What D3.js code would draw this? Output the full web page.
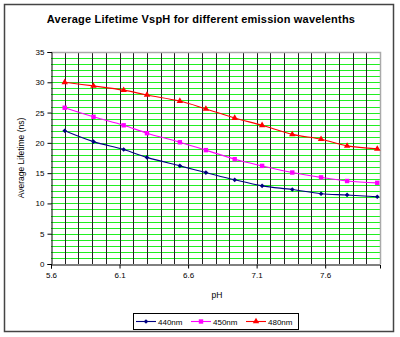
<!DOCTYPE html>
<html>
<head>
<meta charset="utf-8">
<script src="https://cdn.jsdelivr.net/npm/d3@7"></script>
<style>
  html, body { margin: 0; padding: 0; background: #fff; }
  svg { display: block; }
  text { font-family: "Liberation Sans", Arial, sans-serif; fill: #000; }
</style>
</head>
<body>
<svg id="chart" width="400" height="337"></svg>
<script>
// pH values where lifetimes were measured
const phValues = [5.70, 5.91, 6.13, 6.30, 6.54, 6.73, 6.94, 7.14, 7.36, 7.57, 7.76, 7.98];

// Average lifetime (ns) per emission wavelength
const life440 = [22.0, 20.2, 18.9, 17.6, 16.2, 15.1, 13.9, 12.9, 12.3, 11.6, 11.4, 11.1];
const life450 = [25.8, 24.3, 22.9, 21.6, 20.1, 18.8, 17.3, 16.2, 15.1, 14.3, 13.7, 13.4];
const life480 = [30.0, 29.4, 28.7, 27.9, 26.9, 25.6, 24.1, 22.9, 21.4, 20.6, 19.5, 19.0];

const seriesNames = ["440nm", "450nm", "480nm"];
const xTickLabels = [5.6, 6.1, 6.6, 7.1, 7.6];
const yTickLabels = [0, 5, 10, 15, 20, 25, 30, 35];

const series = [
  { name: seriesNames[0], values: life440, color: "#000080", marker: "diamond" },
  { name: seriesNames[1], values: life450, color: "#FF00FF", marker: "square" },
  { name: seriesNames[2], values: life480, color: "#FF0000", marker: "triangle" }
];

const svg = d3.select("#chart");

// outer chart frame
svg.append("rect")
  .attr("x", 4.5).attr("y", 4.5).attr("width", 389).attr("height", 327)
  .attr("fill", "#fff").attr("stroke", "#444").attr("stroke-width", 1.5);

const plotL = 51, plotR = 380, plotT = 52, plotB = 264;

const x = d3.scaleLinear().domain([5.6, 8.0]).range([plotL, plotR]);
const y = d3.scaleLinear().domain([0, 35]).range([plotB, plotT]);

// horizontal green gridlines at every 1 ns
const g = svg.append("g");
g.selectAll("line.hgrid")
  .data(d3.range(1, 35))
  .join("line")
  .attr("x1", plotL).attr("x2", plotR)
  .attr("y1", d => Math.round(y(d)) + 0.5).attr("y2", d => Math.round(y(d)) + 0.5)
  .attr("stroke", "#22EE22").attr("stroke-width", 1);

// vertical gridlines every 0.1 pH
g.selectAll("line.vgrid")
  .data(d3.range(1, 24).map(i => 5.6 + i * 0.1))
  .join("line")
  .attr("y1", plotT).attr("y2", plotB)
  .attr("x1", d => Math.round(x(d)) + 0.5).attr("x2", d => Math.round(x(d)) + 0.5)
  .attr("stroke", "#222").attr("stroke-width", 1);

// plot area border (top and right)
svg.append("path")
  .attr("d", `M${plotL},${plotT + 0.5}H${plotR + 0.5}V${plotB}`)
  .attr("fill", "none").attr("stroke", "#aaa").attr("stroke-width", 1.5);

// axes
const yAxis = d3.axisLeft(y).tickValues(yTickLabels).tickSize(4).tickPadding(3);
const yg = svg.append("g").attr("transform", `translate(${plotL + 0.5},0)`).call(yAxis);
const xAxis = d3.axisBottom(x).tickValues(xTickLabels).tickFormat(d3.format(".1f")).tickSize(4).tickPadding(4);
const xg = svg.append("g").attr("transform", `translate(0,${plotB + 0.5})`).call(xAxis);

[yg, xg].forEach(a => {
  a.select(".domain").attr("stroke", "#000").attr("stroke-width", 1);
  a.selectAll(".tick line").attr("stroke", "#000");
  a.selectAll(".tick text").attr("font-size", 8).attr("font-family", "Liberation Sans, Arial, sans-serif");
});

// titles
svg.append("text")
  .attr("x", 201).attr("y", 23).attr("text-anchor", "middle")
  .attr("font-size", 11).attr("font-weight", "bold").attr("letter-spacing", 0.2)
  .text("Average Lifetime VspH for different emission wavelenths");

svg.append("text")
  .attr("x", 217).attr("y", 298).attr("text-anchor", "middle")
  .attr("font-size", 8.5).text("pH");

svg.append("text")
  .attr("transform", `translate(24,${(plotT + plotB) / 2}) rotate(-90)`)
  .attr("text-anchor", "middle").attr("font-size", 8.5)
  .text("Average Lifetime (ns)");

// marker drawing
function drawMarker(sel, type, color) {
  if (type === "diamond") {
    sel.append("path").attr("d", d3.symbol(d3.symbolDiamond2, 14)()).attr("fill", color);
  } else if (type === "square") {
    sel.append("rect").attr("x", -2.2).attr("y", -2.2).attr("width", 4.4).attr("height", 4.4).attr("fill", color);
  } else {
    sel.append("path").attr("d", d3.symbol(d3.symbolTriangle, 18)()).attr("fill", color);
  }
}

const line = d3.line()
  .x((d, i) => x(phValues[i]))
  .y(d => y(d))
  .curve(d3.curveCatmullRom.alpha(0.5));

series.forEach(s => {
  svg.append("path")
    .datum(s.values)
    .attr("d", line)
    .attr("fill", "none").attr("stroke", s.color).attr("stroke-width", 1.1);
  s.values.forEach((v, i) => {
    const m = svg.append("g").attr("transform", `translate(${x(phValues[i])},${y(v)})`);
    drawMarker(m, s.marker, s.color);
  });
});

// legend
svg.append("rect")
  .attr("x", 133.5).attr("y", 313.5).attr("width", 165).attr("height", 16)
  .attr("fill", "#fff").attr("stroke", "#000").attr("stroke-width", 1);

const legendX = [136, 191, 246];
series.forEach((s, i) => {
  const lg = svg.append("g").attr("transform", `translate(${legendX[i]},321.5)`);
  lg.append("line").attr("x1", 0).attr("x2", 20).attr("y1", 0).attr("y2", 0)
    .attr("stroke", s.color).attr("stroke-width", 1.1);
  const m = lg.append("g").attr("transform", "translate(10,0)");
  drawMarker(m, s.marker, s.color);
  lg.append("text").attr("x", 22).attr("y", 3).attr("font-size", 8).text(s.name);
});
</script>
</body>
</html>
